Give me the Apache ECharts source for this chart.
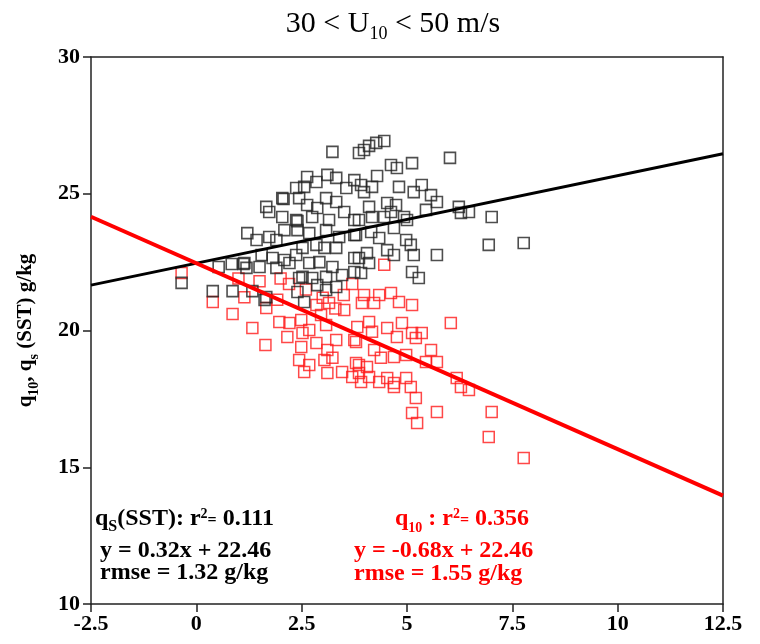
<!DOCTYPE html>
<html>
<head>
<meta charset="utf-8">
<script src="https://cdn.jsdelivr.net/npm/echarts@6/dist/echarts.min.js"></script>
<style>
  html, body { margin: 0; padding: 0; background: #fff; }
  #chart { width: 760px; height: 644px; }
</style>
</head>
<body>
<div id="chart"></div>
<script>
// qs(SST) points, [x, value]
const sstPoints = [
  [-0.35, 21.74],
  [0.53, 22.32], [0.84, 22.43], [1.12, 22.43], [0.39, 21.44], [0.86, 21.44], [1.33, 21.44], [1.62, 21.12],
  [1.21, 23.56], [1.66, 24.52], [1.73, 24.33], [2.07, 24.81], [2.40, 24.00], [2.21, 22.47], [2.44, 21.92], [2.56, 21.04],
  [3.23, 26.53], [2.63, 25.61], [2.85, 25.43], [3.11, 25.69], [3.32, 25.58], [3.56, 25.21], [3.75, 25.50],
  [2.37, 25.21], [2.56, 25.25], [2.44, 24.84], [2.04, 24.84], [2.63, 24.59], [2.87, 24.48], [3.08, 24.84], [3.32, 24.70],
  [2.04, 24.15], [2.37, 24.04], [2.75, 24.15], [3.15, 24.04], [3.51, 24.33], [3.75, 24.04],
  [2.40, 23.67], [2.09, 23.67], [1.73, 23.42], [1.43, 23.31], [1.90, 23.31], [2.68, 23.56], [3.08, 23.67], [3.39, 23.42], [3.75, 23.49],
  [2.52, 23.02], [2.85, 23.13], [3.04, 23.02], [3.32, 23.02],
  [1.55, 22.76], [1.81, 22.65], [2.09, 22.58], [2.37, 22.76], [2.68, 22.47], [2.92, 22.50], [3.23, 22.32], [3.75, 22.65],
  [1.14, 22.47], [1.19, 22.29], [1.50, 22.32], [1.90, 22.29],
  [2.52, 21.96], [2.75, 21.92], [3.08, 21.96], [3.46, 22.03], [3.75, 22.14],
  [1.66, 21.22], [2.40, 21.41], [2.87, 21.66], [3.08, 21.48], [3.32, 21.59],
  [3.86, 26.49], [3.98, 26.60], [4.10, 26.75], [4.27, 26.86], [4.46, 26.93],
  [4.62, 26.05], [4.76, 25.94], [5.12, 26.12], [6.02, 26.31], [4.29, 25.65],
  [3.91, 25.32], [3.98, 25.06], [4.17, 25.25],
  [4.81, 25.25], [5.16, 25.06], [5.35, 25.32], [5.57, 24.95], [5.71, 24.70],
  [4.10, 24.52], [4.53, 24.66], [4.74, 24.59], [4.62, 24.33], [5.45, 24.41],
  [6.23, 24.52], [6.28, 24.30], [6.47, 24.33], [7.01, 24.15],
  [3.86, 24.04], [4.17, 24.15], [4.46, 24.15], [4.93, 24.15], [5.00, 24.04],
  [3.79, 23.49], [4.15, 23.60], [4.34, 23.38], [4.69, 23.75], [4.98, 23.31], [5.09, 23.13], [5.16, 22.76], [5.71, 22.76],
  [6.94, 23.13], [7.77, 23.20],
  [4.05, 22.83], [4.10, 22.47], [4.53, 22.94], [4.69, 22.76],
  [3.86, 22.65], [3.91, 22.10], [5.12, 22.14], [5.28, 21.92]
];

// q10 points
const q10Points = [
  [-0.35, 22.10],
  [0.39, 21.04], [0.86, 20.60], [1.33, 20.09], [1.64, 19.47],
  [1.14, 21.22], [1.66, 20.82], [1.97, 20.31], [2.21, 20.27], [2.16, 19.76], [2.49, 20.38], [2.52, 19.91], [2.68, 20.02],
  [2.85, 20.93], [3.15, 21.01], [3.51, 20.75], [2.96, 20.57], [3.08, 20.20], [3.32, 19.65], [3.11, 19.29], [2.85, 19.54],
  [2.49, 19.40], [2.44, 18.92], [2.68, 18.74], [2.56, 18.48], [3.04, 18.92], [3.23, 19.00], [3.11, 18.45], [3.46, 18.48],
  [3.70, 18.30], [3.79, 18.81], [3.75, 19.65], [1.92, 21.12],
  [1.0, 21.9], [1.5, 21.8], [2.0, 21.9], [2.2, 21.7], [2.6, 21.5], [3.0, 21.2], [3.5, 21.3], [3.7, 21.7], [3.3, 20.8], [4.46, 22.40],
  [3.98, 21.30], [4.34, 21.30], [4.62, 21.37], [3.93, 21.01], [4.22, 21.01], [4.81, 21.04], [5.12, 20.93],
  [6.04, 20.27],
  [3.82, 20.13], [4.10, 20.31], [4.17, 19.95], [4.53, 20.09], [4.76, 19.76], [4.88, 20.27], [5.12, 19.91], [5.21, 19.73], [5.35, 19.91],
  [3.79, 19.58],
  [4.22, 19.29], [4.38, 19.00], [4.69, 19.03], [4.98, 19.10], [5.57, 19.29], [5.45, 18.85], [5.71, 18.85],
  [3.86, 18.74], [4.05, 18.67], [3.86, 18.45], [4.10, 18.30], [3.91, 18.12], [4.34, 18.12], [4.53, 18.26], [4.69, 18.08],
  [4.69, 17.93], [4.98, 18.26], [5.09, 17.93],
  [5.21, 17.53], [5.12, 16.98], [5.24, 16.62], [5.71, 17.02],
  [6.18, 18.26], [6.28, 17.93], [6.47, 17.82],
  [7.01, 17.02], [6.94, 16.11], [7.77, 15.34]
];

// fit lines, end points at the axis limits
const fitX = [-2.5, 12.5];
const sstFitY = [21.66, 26.46];
const q10FitY = [24.16, 13.96];

const xTicks = [-2.5, 0, 2.5, 5, 7.5, 10, 12.5];
const yTicks = [10, 15, 20, 25, 30];

const serif = '"Liberation Serif", "DejaVu Serif", serif';

const chart = echarts.init(document.getElementById('chart'), null, { renderer: 'canvas' });

const tickLabel = {
  color: '#000',
  fontFamily: serif,
  fontWeight: 'bold',
  fontSize: 22
};

// rich styles for the r² lines under the plot
function statRich(color, subSize) {
  return {
    a: { fontFamily: serif, fontWeight: 'bold', fontSize: 24, fill: color, lineHeight: 28, verticalAlign: 'top' },
    s: { fontFamily: serif, fontWeight: 'bold', fontSize: subSize, fill: color, lineHeight: 12, verticalAlign: 'bottom' },
    p: { fontFamily: serif, fontWeight: 'bold', fontSize: 14, fill: color, lineHeight: 20, verticalAlign: 'top' },
    e: { fontFamily: serif, fontWeight: 'bold', fontSize: 16, fill: color, lineHeight: 28, verticalAlign: 'middle' }
  };
}

const option = {
  animation: false,
  backgroundColor: '#fff',
  title: {
    text: '{a|30 < U}{s|10}{a| < 50 m/s}',
    left: 388,
    top: 4,
    textAlign: 'center',
    textStyle: {
      rich: {
        a: { fontFamily: serif, fontWeight: 'normal', fontSize: 30, color: '#000', lineHeight: 34, verticalAlign: 'top' },
        s: { fontFamily: serif, fontWeight: 'normal', fontSize: 18, color: '#000', lineHeight: 14, verticalAlign: 'bottom' }
      }
    }
  },
  grid: { left: 91, right: 37, top: 57, bottom: 40 },
  xAxis: [
    {
      type: 'value',
      min: xTicks[0],
      max: xTicks[xTicks.length - 1],
      interval: 2.5,
      axisLine: { show: true, onZero: false, lineStyle: { color: '#222', width: 1.5 } },
      axisTick: { show: true, length: 8, lineStyle: { color: '#222', width: 1.5 } },
      axisLabel: { ...tickLabel, margin: 9, formatter: (v) => String(v) },
      splitLine: { show: false }
    },
    {
      type: 'value',
      position: 'top',
      min: xTicks[0],
      max: xTicks[xTicks.length - 1],
      axisLine: { show: true, onZero: false, lineStyle: { color: '#222', width: 1.5 } },
      axisTick: { show: false },
      axisLabel: { show: false },
      splitLine: { show: false }
    }
  ],
  yAxis: [
    {
      type: 'value',
      min: yTicks[0],
      max: yTicks[yTicks.length - 1],
      interval: 5,
      axisLine: { show: true, onZero: false, lineStyle: { color: '#222', width: 1.5 } },
      axisTick: { show: true, length: 8, lineStyle: { color: '#222', width: 1.5 } },
      axisLabel: { ...tickLabel, margin: 11 },
      splitLine: { show: false },
      name: '{a|q}{s|10}{a|, q}{s|s}{a| (SST) g/kg}',
      nameLocation: 'middle',
      nameRotate: 90,
      nameGap: 50,
      nameTextStyle: {
        rich: {
          a: { fontFamily: serif, fontWeight: 'bold', fontSize: 21, color: '#000', lineHeight: 26, verticalAlign: 'top' },
          s: { fontFamily: serif, fontWeight: 'bold', fontSize: 14, color: '#000', lineHeight: 12, verticalAlign: 'bottom' }
        }
      }
    },
    {
      type: 'value',
      position: 'right',
      min: yTicks[0],
      max: yTicks[yTicks.length - 1],
      axisLine: { show: true, onZero: false, lineStyle: { color: '#222', width: 1.5 } },
      axisTick: { show: false },
      axisLabel: { show: false },
      splitLine: { show: false }
    }
  ],
  series: [
    {
      name: 'q10',
      type: 'scatter',
      symbol: 'rect',
      symbolSize: 11,
      data: q10Points,
      itemStyle: { color: 'rgba(255,255,255,0)', borderColor: '#ff1a1a', borderWidth: 1.5 }
    },
    {
      name: 'qs(SST)',
      type: 'scatter',
      symbol: 'rect',
      symbolSize: 11,
      data: sstPoints,
      itemStyle: { color: 'rgba(255,255,255,0)', borderColor: '#222', borderWidth: 1.6 }
    },
    {
      type: 'line',
      data: fitX.map((x, i) => [x, sstFitY[i]]),
      showSymbol: false,
      lineStyle: { color: '#000', width: 3 },
      z: 5
    },
    {
      type: 'line',
      data: fitX.map((x, i) => [x, q10FitY[i]]),
      showSymbol: false,
      lineStyle: { color: '#ff0000', width: 4 },
      z: 5
    }
  ],
  graphic: [
    {
      type: 'text',
      left: 95,
      top: 507,
      style: { text: '{a|q}{s|S}{a|(SST): r}{p|2}{e|=}{a| 0.111}', rich: statRich('#000', 16) }
    },
    {
      type: 'text',
      left: 100,
      top: 539,
      style: { text: 'y = 0.32x + 22.46', font: 'bold 24px ' + serif, fill: '#000' }
    },
    {
      type: 'text',
      left: 100,
      top: 561,
      style: { text: 'rmse = 1.32 g/kg', font: 'bold 24px ' + serif, fill: '#000' }
    },
    {
      type: 'text',
      left: 395,
      top: 507,
      style: { text: '{a|q}{s|10}{a| : r}{p|2}{e|=}{a| 0.356}', rich: statRich('#ff0000', 14) }
    },
    {
      type: 'text',
      left: 354,
      top: 539,
      style: { text: 'y = -0.68x + 22.46', font: 'bold 24px ' + serif, fill: '#ff0000' }
    },
    {
      type: 'text',
      left: 354,
      top: 562,
      style: { text: 'rmse = 1.55 g/kg', font: 'bold 24px ' + serif, fill: '#ff0000' }
    }
  ]
};

chart.setOption(option);
</script>
</body>
</html>
